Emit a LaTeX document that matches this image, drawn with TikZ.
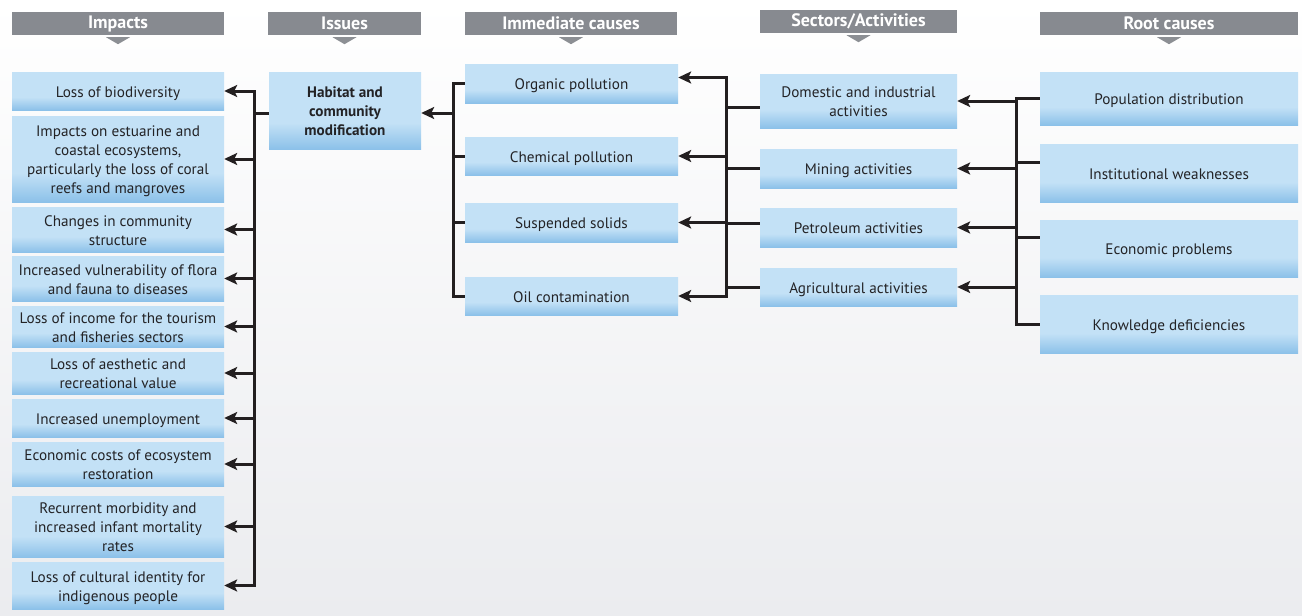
\documentclass[tikz,border=0pt]{standalone}
\usepackage{fontspec}
\setmainfont{PT Sans}
\usetikzlibrary{arrows.meta,calc}
\definecolor{boxtop}{RGB}{195,225,246}
\definecolor{boxbot}{RGB}{140,193,233}
\definecolor{hdrcol}{RGB}{135,138,144}
\definecolor{tricol}{RGB}{140,143,148}
\definecolor{linecol}{RGB}{35,31,32}
\definecolor{txtcol}{RGB}{35,35,38}
\definecolor{bgbot}{RGB}{235,236,239}
\pgfdeclareverticalshading{boxshade}{100bp}{color(0bp)=(boxbot); color(25bp)=(boxbot); color(42bp)=(boxtop); color(75bp)=(boxtop); color(100bp)=(boxtop)}
\tikzset{
  cbox/.style={rectangle, shading=boxshade, inner sep=0pt, align=center,
    font=\fontsize{15.2}{19}\selectfont, text=txtcol},
  hdr/.style={rectangle, fill=hdrcol, inner sep=0pt, text=white,
    font=\fontsize{18}{20}\selectfont\bfseries},
  tri/.style={fill=tricol},
  conn/.style={draw=linecol, line width=3pt},
  arr/.style={conn, -{Stealth[length=13pt,width=12pt,inset=3pt]}},
}
\newcommand\bx[6]{\node[cbox, minimum width={(#4-#2)*1pt}, minimum height={(#5-#3)*1pt}] (#1) at ({(#2+#4)/2},{(#3+#5)/2}) {\rule{0pt}{16pt}#6\rule[-4pt]{0pt}{0pt}};}
\newcommand\hd[6]{\node[hdr, minimum width={(#4-#2)*1pt}, minimum height={(#5-#3)*1pt}] (#1) at ({(#2+#4)/2},{(#3+#5)/2}) {#6};
  \fill[tri] ([yshift=-2pt]#1.south) +(-12,0) -- +(12,0) -- +(0,7) -- cycle;}
\begin{document}
\begin{tikzpicture}[x=1pt,y=-1pt]
\useasboundingbox (0,0) rectangle (1302,616);
\shade[top color=white, bottom color=bgbot] (0,0) rectangle (1302,616);
% headers
\hd{h1}{12}{12}{224}{35}{Impacts}
\hd{h2}{268}{12}{421}{35}{Issues}
\hd{h3}{465}{12}{677}{35}{Immediate causes}
\hd{h4}{760}{10}{957}{33}{Sectors/Activities}
\hd{h5}{1040}{12}{1298}{35}{Root causes}
% impacts
\bx{imp1}{12}{72}{224}{110}{Loss of biodiversity}
\bx{imp2}{12}{116}{224}{202}{Impacts on estuarine and\\coastal ecosystems,\\particularly the loss of coral\\reefs and mangroves}
\bx{imp3}{12}{207}{224}{252}{Changes in community\\structure}
\bx{imp4}{12}{256}{224}{301}{Increased vulnerability of flora\\and fauna to diseases}
\bx{imp5}{12}{306}{224}{347}{Loss of income for the tourism\\and fisheries sectors}
\bx{imp6}{12}{352}{224}{394}{Loss of aesthetic and\\recreational value}
\bx{imp7}{12}{399}{224}{437}{Increased unemployment}
\bx{imp8}{12}{442}{224}{486}{Economic costs of ecosystem\\restoration}
\bx{imp9}{12}{496}{224}{557}{Recurrent morbidity and\\increased infant mortality\\rates}
\bx{imp10}{12}{562}{224}{609}{Loss of cultural identity for\\indigenous people}
% issue
\bx{iss}{269}{72}{421}{149}{\bfseries Habitat and\\\bfseries community\\\bfseries modification}
% immediate causes
\bx{ic1}{465}{64}{678}{103}{Organic pollution}
\bx{ic2}{465}{137}{678}{175}{Chemical pollution}
\bx{ic3}{465}{203}{678}{242}{Suspended solids}
\bx{ic4}{465}{277}{678}{315}{Oil contamination}
% sectors
\bx{s1}{760}{74}{957}{128}{Domestic and industrial\\activities}
\bx{s2}{760}{149}{957}{188}{Mining activities}
\bx{s3}{760}{208}{957}{247}{Petroleum activities}
\bx{s4}{760}{268}{957}{306}{Agricultural activities}
% root causes
\bx{r1}{1040}{72}{1298}{125}{Population distribution}
\bx{r2}{1040}{144}{1298}{202}{Institutional weaknesses}
\bx{r3}{1040}{220}{1298}{277}{Economic problems}
\bx{r4}{1040}{295}{1298}{353}{Knowledge deficiencies}
% bus coordinates
\coordinate (b1) at (254,113);
\coordinate (b2) at (453,113);
\coordinate (b3) at (726,107);
\coordinate (b4) at (1016,99);
% issues -> impacts
\draw[conn] ([yshift=-2.5pt]iss.west) -- (b1);
\draw[conn, line cap=rect] (b1 |- imp1) -- (b1 |- imp10);
\foreach \i in {1,...,10} { \draw[arr] (b1 |- imp\i) -- (imp\i.east); }
% immediate -> issue
\draw[arr] (b2) -- ([yshift=-2.5pt]iss.east);
\draw[conn, line cap=rect] (b2 |- ic1) -- (b2 |- ic4);
\foreach \i in {1,...,4} { \draw[conn] (ic\i.west) -- (b2 |- ic\i); }
% sectors -> immediate
\draw[conn, line cap=rect] ([yshift=6pt]b3 |- ic1) -- (b3 |- ic4);
\draw[arr] ([yshift=6pt]b3 |- ic1) -- ([yshift=6pt]ic1.east);
\foreach \i in {2,...,4} { \draw[arr] (b3 |- ic\i) -- (ic\i.east); }
\draw[conn] ([yshift=-6pt]s1.west) -- ([yshift=-6pt]b3 |- s1);
\draw[conn] (s2.west) -- (b3 |- s2);
\draw[conn] ([yshift=4.5pt]s3.west) -- ([yshift=4.5pt]b3 |- s3);
\draw[conn] (s4.west) -- (b3 |- s4);
% root -> sectors
\draw[conn, line cap=rect] (b4 |- r1) -- (b4 |- r4);
\foreach \i in {1,...,4} { \draw[arr] (b4 |- s\i) -- (s\i.east); }
\draw[conn] (r1.west) -- (b4 |- r1);
\draw[conn] ([yshift=11pt]r2.west) -- ([yshift=11pt]b4 |- r2);
\draw[conn] ([yshift=11.5pt]r3.west) -- ([yshift=11.5pt]b4 |- r3);
\draw[conn] (r4.west) -- (b4 |- r4);
\end{tikzpicture}
\end{document}
